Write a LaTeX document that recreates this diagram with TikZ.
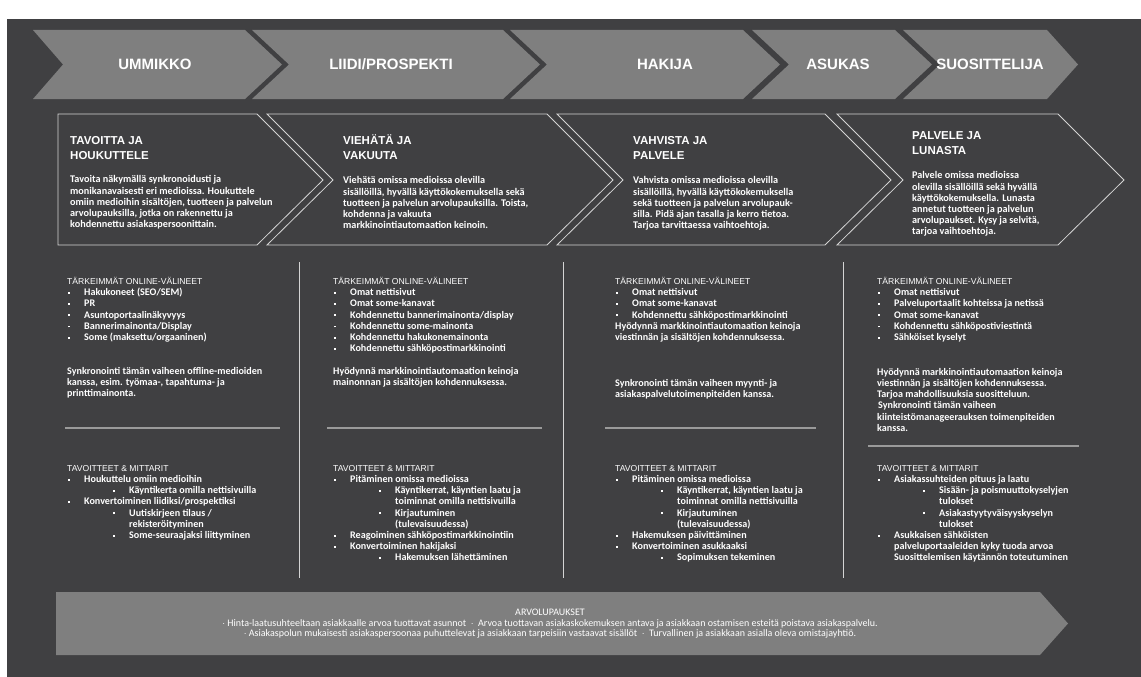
\documentclass[tikz,border=0pt]{standalone}
\usepackage{fontspec}
\setmainfont{Carlito}
\newfontfamily\bannerfont{Liberation Sans}

\definecolor{bgdark}{HTML}{404042}
\definecolor{stagegray}{HTML}{7F7F7F}
\definecolor{rulegray}{HTML}{9A9A9A}
\definecolor{outlinegray}{HTML}{D4D4D4}

% list helpers: square bullet, two levels, continuation lines
\newcommand\sqbul{\raisebox{1.8pt}{\rule{1.8pt}{1.8pt}}}
\newcommand\lone[1]{\hspace*{1pt}\makebox[16pt][l]{\sqbul}#1}
\newcommand\ltwo[1]{\hspace*{46pt}\makebox[16pt][l]{\sqbul}#1}
\newcommand\lcont[1]{\hspace*{62pt}#1}
\newcommand\lonecont[1]{\hspace*{17pt}#1}
\newcommand\colhead[1]{{\bannerfont\mdseries\fontsize{8.6}{11.2}\selectfont #1}}

\begin{document}
\begin{tikzpicture}[x=1pt,y=-1pt,
  stage/.style={fill=stagegray,draw=none},
  stagetext/.style={white,font=\bannerfont\bfseries\fontsize{15}{15}\selectfont},
  phase/.style={draw=outlinegray,line width=0.8pt},
  phasetitle/.style={anchor=north west,inner sep=0,white,align=left,
    font=\bannerfont\bfseries\fontsize{11.5}{15.5}\selectfont},
  phasetext/.style={anchor=north west,inner sep=0,white,align=left,
    font=\bfseries\fontsize{10.2}{11.2}\selectfont},
  coltext/.style={anchor=north west,inner sep=0,white,align=left,
    font=\bfseries\fontsize{10.1}{11.2}\selectfont},
  colline/.style={outlinegray,line width=0.9pt},
  seprule/.style={rulegray,line width=1.4pt}]
  \useasboundingbox (0,0) rectangle (1141,677);
  \fill[white] (0,0) rectangle (1141,677);
  \fill[bgdark] (7,19) rectangle (1141,677);

  % customer stages
  \fill[stage] (33,30) -- (245,30) -- (282,64.5) -- (245,99) -- (33,99) -- (63,64.5) -- cycle;
  \fill[stage] (252,30) -- (503,30) -- (540,64.5) -- (503,99) -- (252,99) -- (289,64.5) -- cycle;
  \fill[stage] (510,30) -- (743,30) -- (780,64.5) -- (743,99) -- (510,99) -- (547,64.5) -- cycle;
  \fill[stage] (752,30) -- (895,30) -- (932,64.5) -- (895,99) -- (752,99) -- (789,64.5) -- cycle;
  \fill[stage] (903,30) -- (1047,30) -- (1078,64.5) -- (1047,99) -- (903,99) -- (940,64.5) -- cycle;
  \node[stagetext] (ummikko) at (155,64.5) {UMMIKKO};
  \node[stagetext] (liidi) at (391,64.5) {LIIDI/PROSPEKTI};
  \node[stagetext] (hakija) at (665,64.5) {HAKIJA};
  \node[stagetext] (asukas) at (838,64.5) {ASUKAS};
  \node[stagetext] (suosittelija) at (990,64.5) {SUOSITTELIJA};

  % phase outlines
  \draw[phase] (58,114) -- (257,114) -- (323,180) -- (257,245) -- (58,245) -- cycle;
  \draw[phase] (267,114) -- (547,114) -- (613,180) -- (547,245) -- (267,245) -- (333,180) -- cycle;
  \draw[phase] (557,114) -- (825,114) -- (891,180) -- (825,245) -- (557,245) -- (623,180) -- cycle;
  \draw[phase] (837,114) -- (1058,114) -- (1124,180) -- (1058,245) -- (837,245) -- (903,180) -- cycle;

  \node[phasetitle] (tavoita) at (70,136) {TAVOITTA JA\\HOUKUTTELE};
  \node[phasetext] (tavoitaText) at (70,175.5) {Tavoita näkymällä synkronoidusti ja\\
    monikanavaisesti eri medioissa. Houkuttele\\
    omiin medioihin sisältöjen, tuotteen ja palvelun\\
    arvolupauksilla, jotka on rakennettu ja\\
    kohdennettu asiakaspersoonittain.};

  \node[phasetitle] (viehata) at (343,134) {VIEHÄTÄ  JA\\VAKUUTA};
  \node[phasetext] (viehataText) at (343,176.5) {Viehätä omissa medioissa olevilla\\
    sisällöillä, hyvällä käyttökokemuksella  sekä\\
    tuotteen ja palvelun arvolupauksilla. Toista,\\
    kohdenna ja vakuuta\\
    markkinointiautomaation keinoin.};

  \node[phasetitle] (vahvista) at (633,136) {VAHVISTA JA\\PALVELE};
  \node[phasetext] (vahvistaText) at (633,176.5) {Vahvista omissa medioissa olevilla\\
    sisällöillä, hyvällä käyttökokemuksella\\
    sekä tuotteen ja palvelun arvolupauk-\\
    silla. Pidä ajan tasalla ja kerro tietoa.\\
    Tarjoa tarvittaessa vaihtoehtoja.};

  \node[phasetitle] (palvele) at (912,131) {PALVELE JA\\LUNASTA};
  \node[phasetext] (palveleText) at (912,171.5) {Palvele omissa medioissa\\
    olevilla sisällöillä sekä hyvällä\\
    käyttökokemuksella.  Lunasta\\
    annetut tuotteen ja palvelun\\
    arvolupaukset. Kysy ja selvitä,\\
    tarjoa vaihtoehtoja.};

  % column dividers and rules
  \draw[colline] (299,262) -- (299,578);
  \draw[colline] (563,262) -- (563,578);
  \draw[colline] (843,262) -- (843,578);
  \draw[seprule] (65,428) -- (280,428);
  \draw[seprule] (327,428) -- (542,428);
  \draw[seprule] (605,428) -- (816,428);
  \draw[seprule] (868,446) -- (1079,446);

  % online tools
  \node[coltext] (toolsOne) at (67,277) {\colhead{TÄRKEIMMÄT  ONLINE-VÄLINEET}\\
    \lone{Hakukoneet (SEO/SEM)}\\
    \lone{PR}\\
    \lone{Asuntoportaalinäkyvyys}\\
    \lone{Bannerimainonta/Display}\\
    \lone{Some (maksettu/orgaaninen)}};
  \node[coltext] (syncOne) at (67,367) {Synkronointi tämän vaiheen offline-medioiden\\
    kanssa, esim. työmaa-,  tapahtuma- ja\\
    printtimainonta.};

  \node[coltext] (toolsTwo) at (333,277) {\colhead{TÄRKEIMMÄT  ONLINE-VÄLINEET}\\
    \lone{Omat  nettisivut}\\
    \lone{Omat  some-kanavat}\\
    \lone{Kohdennettu bannerimainonta/display}\\
    \lone{Kohdennettu some-mainonta}\\
    \lone{Kohdennettu hakukonemainonta}\\
    \lone{Kohdennettu sähköpostimarkkinointi}};
  \node[coltext] (autoTwo) at (333,367) {Hyödynnä markkinointiautomaation keinoja\\
    mainonnan ja sisältöjen kohdennuksessa.};

  \node[coltext] (toolsThree) at (615,277) {\colhead{TÄRKEIMMÄT  ONLINE-VÄLINEET}\\
    \lone{Omat  nettisivut}\\
    \lone{Omat  some-kanavat}\\
    \lone{Kohdennettu sähköpostimarkkinointi}\\
    Hyödynnä markkinointiautomaation keinoja\\
    viestinnän ja sisältöjen kohdennuksessa.};
  \node[coltext] (syncThree) at (615,379) {Synkronointi tämän vaiheen myynti- ja\\
    asiakaspalvelutoimenpiteiden kanssa.};

  \node[coltext] (toolsFour) at (877,277) {\colhead{TÄRKEIMMÄT  ONLINE-VÄLINEET}\\
    \lone{Omat  nettisivut}\\
    \lone{Palveluportaalit kohteissa ja netissä}\\
    \lone{Omat  some-kanavat}\\
    \lone{Kohdennettu sähköpostiviestintä}\\
    \lone{Sähköiset  kyselyt}};
  \node[coltext] (autoFour) at (877,368) {Hyödynnä markkinointiautomaation keinoja\\
    viestinnän ja sisältöjen kohdennuksessa.\\
    Tarjoa mahdollisuuksia suositteluun.\\
    \hspace*{1pt}Synkronointi tämän vaiheen\\
    kiinteistömanageerauksen toimenpiteiden\\
    kanssa.};

  % goals and metrics
  \node[coltext] (goalsOne) at (67,465) {\colhead{TAVOITTEET  \& MITTARIT}\\
    \lone{Houkuttelu omiin medioihin}\\
    \ltwo{Käyntikerta omilla nettisivuilla}\\
    \lone{Konvertoiminen liidiksi/prospektiksi}\\
    \ltwo{Uutiskirjeen tilaus /}\\
    \lcont{rekisteröityminen}\\
    \ltwo{Some-seuraajaksi liittyminen}};

  \node[coltext] (goalsTwo) at (333,465) {\colhead{TAVOITTEET  \& MITTARIT}\\
    \lone{Pitäminen omissa medioissa}\\
    \ltwo{Käyntikerrat, käyntien laatu ja}\\
    \lcont{toiminnat omilla nettisivuilla}\\
    \ltwo{Kirjautuminen}\\
    \lcont{(tulevaisuudessa)}\\
    \lone{Reagoiminen sähköpostimarkkinointiin}\\
    \lone{Konvertoiminen hakijaksi}\\
    \ltwo{Hakemuksen lähettäminen}};

  \node[coltext] (goalsThree) at (615,465) {\colhead{TAVOITTEET  \& MITTARIT}\\
    \lone{Pitäminen omissa medioissa}\\
    \ltwo{Käyntikerrat, käyntien laatu ja}\\
    \lcont{toiminnat omilla nettisivuilla}\\
    \ltwo{Kirjautuminen}\\
    \lcont{(tulevaisuudessa)}\\
    \lone{Hakemuksen päivittäminen}\\
    \lone{Konvertoiminen asukkaaksi}\\
    \ltwo{Sopimuksen tekeminen}};

  \node[coltext] (goalsFour) at (877,465) {\colhead{TAVOITTEET  \& MITTARIT}\\
    \lone{Asiakassuhteiden  pituus ja laatu}\\
    \ltwo{Sisään- ja poismuuttokyselyjen}\\
    \lcont{tulokset}\\
    \ltwo{Asiakastyytyväisyyskyselyn}\\
    \lcont{tulokset}\\
    \lone{Asukkaisen  sähköisten}\\
    \lonecont{palveluportaaleiden kyky tuoda arvoa}\\
    \lonecont{Suosittelemisen käytännön toteutuminen}};

  % value promises
  \fill[stage] (56,592) -- (1040,592) -- (1068,623.5) -- (1040,655) -- (56,655) -- cycle;
  \node[white,align=center,inner sep=0,font=\fontsize{10}{10.6}\selectfont] (arvo) at (550,624) {ARVOLUPAUKSET\\
    $\cdot$\ Hinta-laatusuhteeltaan asiakkaalle arvoa tuottavat asunnot\ \ $\cdot$\ \ Arvoa tuottavan asiakaskokemuksen antava ja asiakkaan ostamisen esteitä poistava asiakaspalvelu.\\
    $\cdot$\ Asiakaspolun mukaisesti asiakaspersoonaa puhuttelevat ja asiakkaan tarpeisiin vastaavat sisällöt\ \ $\cdot$\ \ Turvallinen ja asiakkaan asialla oleva omistajayhtiö.};
\end{tikzpicture}
\end{document}
